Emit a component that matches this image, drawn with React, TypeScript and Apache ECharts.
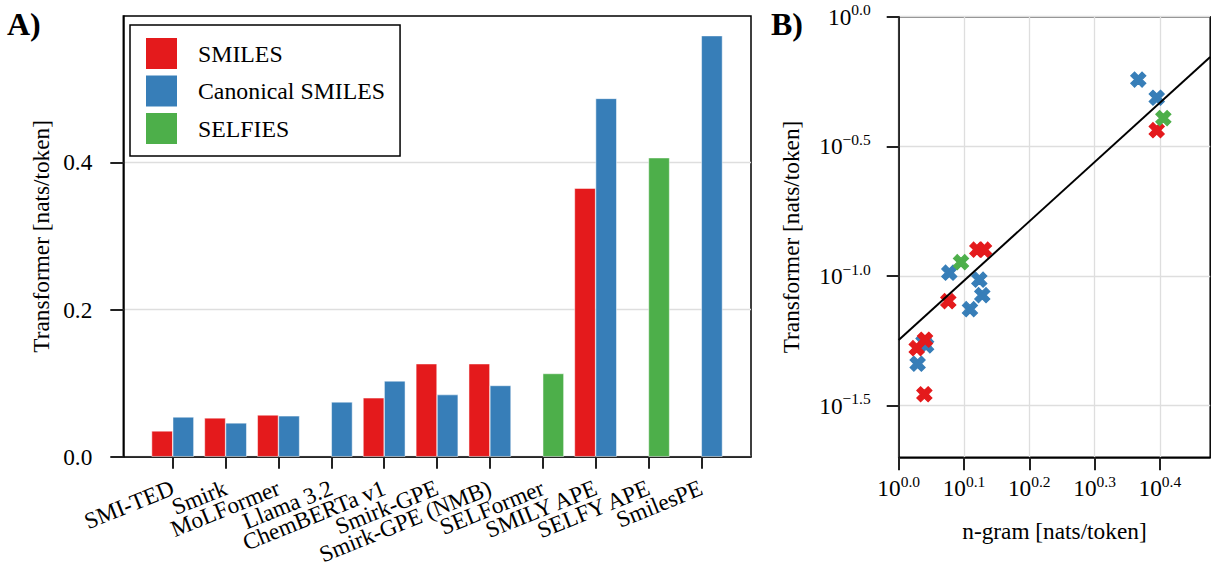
import React, { useEffect, useRef } from "react";
import * as echarts from "echarts";

// ---------- data ----------
const categories = [
  "SMI-TED",
  "Smirk",
  "MoLFormer",
  "Llama 3.2",
  "ChemBERTa v1",
  "Smirk-GPE",
  "Smirk-GPE (NMB)",
  "SELFormer",
  "SMILY APE",
  "SELFY APE",
  "SmilesPE",
];

// Transformer cross-entropy [nats/token] (panel A bars, panel B y values)
const smilesValues = [0.035, 0.0527, 0.0568, null, 0.08, 0.1264, 0.1264, null, 0.365, null, null];
const canonicalValues = [0.054, 0.0459, 0.0555, 0.0745, 0.103, 0.0844, 0.0968, null, 0.487, null, 0.5723];
const selfiesValues = [null, null, null, null, null, null, null, 0.1131, null, 0.4064, null];

// n-gram cross-entropy [nats/token] (panel B x values)
const smilesNgram = [1.0947, 1.0656, 1.0972, null, 1.1912, 1.3196, 1.3509, null, 2.4843, null, null];
const canonicalNgram = [1.1015, 1.069, 1.0914, 1.2857, 1.1953, 1.3428, 1.3289, null, 2.4843, null, 2.3281];
const selfiesNgram = [null, null, null, null, null, null, null, 1.2457, null, 2.5431, null];

// log-log fit: log10(T) = fitIntercept + fitSlope * log10(N)
const fitIntercept = -1.247;
const fitSlope = 2.288;

const leftYTicks = [0, 0.2, 0.4];
const rightXTickExps = [0, 0.1, 0.2, 0.3, 0.4];
const rightYTickExps = [-1.5, -1.0, -0.5, 0.0];

const seriesNames = ["SMILES", "Canonical SMILES", "SELFIES"];
const colors = ["#e41a1c", "#377eb8", "#4daf4a"];

// axis limits
const leftXMin = -0.935;
const leftXMax = 10.94;
const leftYMax = 0.599;
const rightXMin = 1;
const rightXMax = 3;
const rightYMin = 0.02;
const rightYMax = 1;

const FONT = "Liberation Serif";
const FS = 23.3;

function barData(values: (number | null)[], offset: number) {
  const out: number[][] = [];
  values.forEach((v, i) => {
    if (v != null) out.push([i + offset, v]);
  });
  return out;
}

function scatterData(xs: (number | null)[], ys: (number | null)[]) {
  const out: number[][] = [];
  xs.forEach((x, i) => {
    const y = ys[i];
    if (x != null && y != null) out.push([Math.log10(x), Math.log10(y)]);
  });
  return out;
}

const X_SYMBOL = "path://M1,-2L2,-1L1,0L2,1L1,2L0,1L-1,2L-2,1L-1,0L-2,-1L-1,-2L0,-1Z";

function expLabel(v: number) {
  const s = (v < 0 ? "\u2212" : "") + Math.abs(v).toFixed(1);
  return `{b|10}{s|${s}}`;
}

const richStyle = {
  b: { fontSize: FS, fontFamily: FONT, color: "#000", lineHeight: 30 },
  s: { fontSize: 15.5, fontFamily: FONT, color: "#000", lineHeight: 15, verticalAlign: "top" },
};

export default function App() {
  const ref = useRef<HTMLDivElement>(null);

  useEffect(() => {
    document.body.style.margin = "0";
    if (!ref.current) return;
    const chart = echarts.init(ref.current, undefined, { renderer: "svg" });

    const tickStyle = { color: "#222", width: 2 };
    const gridLine = { show: true, lineStyle: { color: "#dedede", width: 1.3 } };
    const axisLine = { show: true, onZero: false, lineStyle: { color: "#000", width: 1.5 } };
    const nameStyle = { fontSize: FS, fontFamily: FONT, color: "#000" };

    const xLo = Math.log10(rightXMin);
    const xHi = Math.log10(rightXMax);

    // panel A geometry: one category slot per unit of the value x axis
    const aLeft = 123.3;
    const aWidth = 627.7;
    const slot = aWidth / (leftXMax - leftXMin);
    const labelGridLeft = aLeft + (-0.5 - leftXMin) * slot;

    const option: any = {
      animation: false,
      backgroundColor: "#fff",
      textStyle: { fontFamily: FONT },
      grid: [
        { left: aLeft, top: 16, width: aWidth, height: 440.7, show: true, borderColor: "#000", borderWidth: 1.5, backgroundColor: "transparent" },
        { left: 898.7, top: 16.7, width: 311.5, height: 440.6, show: true, borderColor: "#000", borderWidth: 1.5, backgroundColor: "transparent" },
        { left: labelGridLeft, top: 16, width: slot * categories.length, height: 440.7, show: false },
      ],
      legend: {
        data: seriesNames,
        orient: "vertical",
        left: 130,
        top: 25,
        padding: [11, 15, 10, 14],
        itemGap: 2.5,
        itemWidth: 33,
        itemHeight: 33,
        icon: "rect",
        borderColor: "#000",
        borderWidth: 1.5,
        borderRadius: 0,
        backgroundColor: "#fff",
        selectedMode: false,
        textStyle: { fontSize: 23.8, lineHeight: 33, fontFamily: FONT, color: "#000", padding: [0, 0, 0, 15] },
      },
      xAxis: [
        {
          type: "value",
          gridIndex: 0,
          min: leftXMin,
          max: leftXMax,
          axisLine,
          splitLine: { show: false },
          axisTick: { show: true, length: 12, lineStyle: tickStyle, customValues: categories.map((_, i) => i) },
          axisLabel: { show: false },
        },
        {
          type: "value",
          gridIndex: 1,
          min: xLo,
          max: xHi,
          name: "n-gram [nats/token]",
          nameLocation: "middle",
          nameGap: 62,
          nameTextStyle: nameStyle,
          axisLine,
          splitLine: gridLine,
          axisTick: { show: true, length: 13, lineStyle: tickStyle, customValues: rightXTickExps },
          axisLabel: {
            customValues: rightXTickExps,
            formatter: expLabel,
            rich: richStyle,
            showMinLabel: true,
            showMaxLabel: true,
            margin: 16,
          },
        },
        {
          type: "category",
          gridIndex: 2,
          data: categories,
          boundaryGap: true,
          axisLine: { show: false },
          axisTick: { show: false },
          splitLine: { show: false },
          axisLabel: {
            interval: 0,
            rotate: 22,
            margin: 32,
            fontSize: FS,
            fontFamily: FONT,
            color: "#000",
          },
        },
      ],
      yAxis: [
        {
          type: "value",
          gridIndex: 0,
          min: 0,
          max: leftYMax,
          name: "Transformer [nats/token]",
          nameLocation: "middle",
          nameGap: 71,
          nameTextStyle: nameStyle,
          axisLine,
          splitLine: gridLine,
          axisTick: { show: true, length: 13, lineStyle: tickStyle, customValues: leftYTicks },
          axisLabel: {
            customValues: leftYTicks,
            formatter: (v: number) => v.toFixed(1),
            showMinLabel: true,
            margin: 31,
            fontSize: FS,
            fontFamily: FONT,
            color: "#000",
          },
        },
        {
          type: "value",
          gridIndex: 1,
          min: Math.log10(rightYMin),
          max: Math.log10(rightYMax),
          name: "Transformer [nats/token]",
          nameLocation: "middle",
          nameGap: 96,
          nameTextStyle: nameStyle,
          axisLine,
          splitLine: gridLine,
          axisTick: { show: true, length: 12, lineStyle: tickStyle, customValues: rightYTickExps },
          axisLabel: {
            customValues: rightYTickExps,
            formatter: expLabel,
            rich: richStyle,
            showMinLabel: true,
            showMaxLabel: true,
            margin: 28,
          },
        },
        {
          type: "value",
          gridIndex: 2,
          show: false,
          min: 0,
          max: 1,
        },
      ],
      series: [
        ...[smilesValues, canonicalValues, selfiesValues].map((vals, k) => ({
          type: "bar",
          name: seriesNames[k],
          xAxisIndex: 0,
          yAxisIndex: 0,
          data: barData(vals, k === 0 ? -0.2 : 0.2),
          barWidth: 0.4 * slot,
          barGap: "-100%",
          itemStyle: { color: colors[k], borderColor: "#fff", borderWidth: 0.5 },
        })),
        ...[
          [1, canonicalNgram, canonicalValues],
          [0, smilesNgram, smilesValues],
          [2, selfiesNgram, selfiesValues],
        ].map(([k, xs, ys]: any) => ({
          type: "scatter",
          name: seriesNames[k],
          xAxisIndex: 1,
          yAxisIndex: 1,
          symbol: X_SYMBOL,
          symbolSize: 15,
          data: scatterData(xs, ys),
          itemStyle: { color: colors[k], opacity: 1, borderColor: colors[k], borderWidth: 1.2 },
          z: 3,
        })),
        {
          type: "line",
          name: "fit",
          xAxisIndex: 1,
          yAxisIndex: 1,
          data: [
            [xLo, fitIntercept + fitSlope * xLo],
            [xHi, fitIntercept + fitSlope * xHi],
          ],
          symbol: "none",
          lineStyle: { color: "#000", width: 2 },
          z: 4,
          silent: true,
        },
      ],
      graphic: [
        { type: "text", left: 7, top: 8, style: { text: "A)", font: `bold 32px "${FONT}"`, fill: "#000" } },
        { type: "text", left: 771, top: 8, style: { text: "B)", font: `bold 32px "${FONT}"`, fill: "#000" } },
      ],
    };

    chart.setOption(option);
    return () => chart.dispose();
  }, []);

  return (
    <div
      ref={ref}
      style={{ position: "fixed", left: 0, top: 0, width: 1212, height: 567, background: "#fff" }}
    />
  );
}
